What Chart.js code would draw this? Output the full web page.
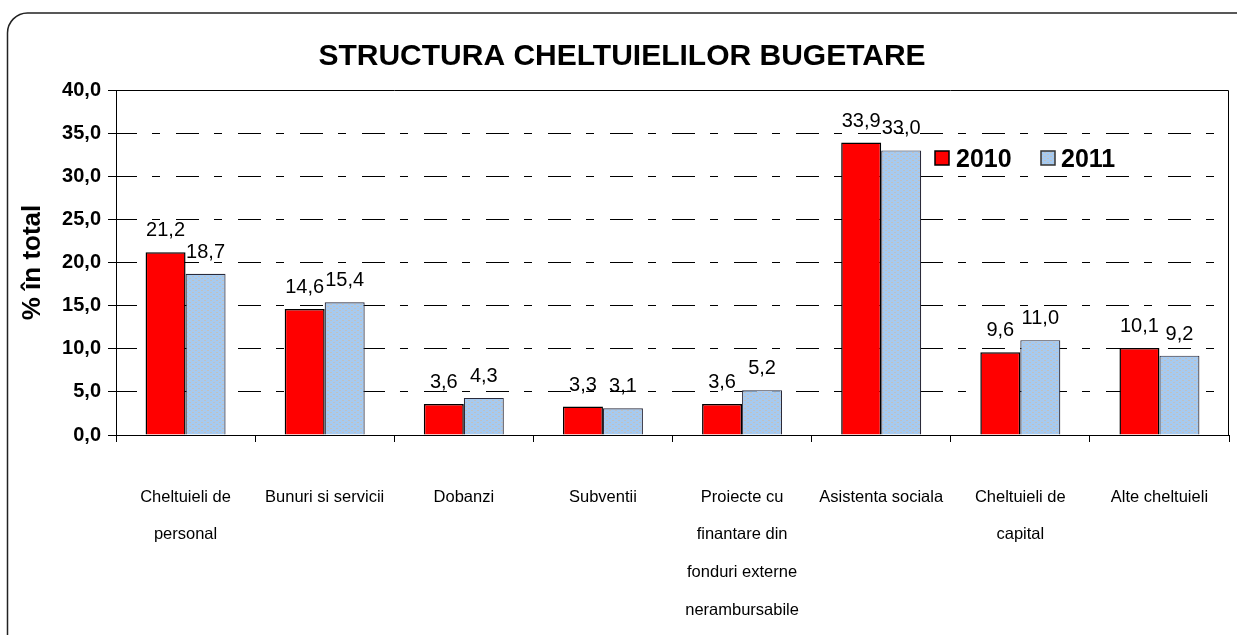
<!DOCTYPE html>
<html>
<head>
<meta charset="utf-8">
<script src="https://cdn.jsdelivr.net/npm/chart.js@4/dist/chart.umd.min.js"></script>
<style>
    html, body { margin: 0; padding: 0; background: #fff; }
    #wrap { width: 1237px; height: 635px; position: relative; }
</style>
</head>
<body>
<div id="wrap"><canvas id="bugetChart"></canvas></div>
<script>
// categorii de cheltuieli
const categories = [
    ["Cheltuieli de", "personal"],
    "Bunuri si servicii",
    "Dobanzi",
    "Subventii",
    ["Proiecte cu", "finantare din", "fonduri externe", "nerambursabile"],
    "Asistenta sociala",
    ["Cheltuieli de", "capital"],
    "Alte cheltuieli"
];
const seriesNames = ["2010", "2011"];
const values2010 = [21.2, 14.6, 3.6, 3.3, 3.6, 33.9, 9.6, 10.1];
const values2011 = [18.7, 15.4, 4.3, 3.1, 5.2, 33.0, 11.0, 9.2];
const yTicks = [0, 5, 10, 15, 20, 25, 30, 35, 40];

const fmt = (v) => v.toFixed(1).replace('.', ',');
const FONT = "Arial, 'Liberation Sans', sans-serif";

// hasura albastra cu puncte gri
const makePattern = () => {
    const c = document.createElement('canvas');
    c.width = 6;
    c.height = 4;
    const p = c.getContext('2d');
    p.fillStyle = '#a6caf0';
    p.fillRect(0, 0, 6, 4);
    p.fillStyle = '#c0c0c0';
    p.fillRect(0, 0, 2, 1);
    p.fillRect(3, 2, 2, 1);
    return p.createPattern(c, 'repeat');
};

const framePlugin = {
    id: 'frame',
    beforeDraw(chart) {
        const ctx = chart.ctx;
        ctx.save();
        ctx.fillStyle = '#fff';
        ctx.fillRect(0, 0, chart.width, chart.height);
        ctx.strokeStyle = '#222';
        ctx.lineWidth = 1.5;
        ctx.beginPath();
        ctx.roundRect(7.5, 13, 1250, 650, 20);
        ctx.stroke();
        ctx.restore();
    },
    afterDraw(chart) {
        const {ctx, chartArea: a} = chart;
        ctx.save();
        ctx.strokeStyle = '#000';
        ctx.lineWidth = 1;
        ctx.beginPath();
        ctx.moveTo(a.left + 0.5, a.bottom);
        ctx.lineTo(a.left + 0.5, a.top + 0.5);
        ctx.lineTo(a.right - 0.5, a.top + 0.5);
        ctx.lineTo(a.right - 0.5, a.bottom);
        ctx.moveTo(a.left, a.bottom + 0.5);
        ctx.lineTo(a.right, a.bottom + 0.5);
        ctx.stroke();

        // legenda
        ctx.fillStyle = '#fff';
        ctx.fillRect(923, 141, 205, 32);
        ctx.lineWidth = 1.5;
        ctx.fillStyle = '#ff0000';
        ctx.fillRect(935, 151, 14, 14);
        ctx.strokeStyle = '#000';
        ctx.strokeRect(935, 151, 14, 14);
        ctx.fillStyle = chart.data.datasets[1].backgroundColor;
        ctx.fillRect(1041, 151, 14, 14);
        ctx.strokeStyle = '#333';
        ctx.strokeRect(1041, 151, 14, 14);
        ctx.fillStyle = '#000';
        ctx.font = 'bold 25px ' + FONT;
        ctx.textBaseline = 'alphabetic';
        ctx.textAlign = 'left';
        ctx.fillText(seriesNames[0], 956, 167);
        ctx.fillText(seriesNames[1], 1061, 167);
        ctx.restore();
    }
};

const labelPlugin = {
    id: 'valueLabels',
    afterDatasetsDraw(chart) {
        const ctx = chart.ctx;
        ctx.save();
        ctx.font = '20px ' + FONT;
        ctx.fillStyle = '#000';
        ctx.textAlign = 'center';
        ctx.textBaseline = 'alphabetic';
        chart.data.datasets.forEach((ds, i) => {
            chart.getDatasetMeta(i).data.forEach((bar, j) => {
                ctx.fillText(fmt(ds.data[j]), bar.x, bar.y - 16);
            });
        });
        ctx.restore();
    }
};

const ctx = document.getElementById('bugetChart');
new Chart(ctx, {
    type: 'bar',
    data: {
        labels: categories,
        datasets: [{
            label: seriesNames[0],
            data: values2010,
            backgroundColor: '#ff0000',
            borderColor: '#000',
            borderWidth: 1.5
        }, {
            label: seriesNames[1],
            data: values2011,
            backgroundColor: makePattern(),
            borderColor: '#2a2a3a',
            borderWidth: 1.2
        }]
    },
    options: {
        responsive: true,
        maintainAspectRatio: false,
        animation: false,
        datasets: {
            bar: { categoryPercentage: 0.575, barPercentage: 1.0 }
        },
        layout: { padding: { left: 15, right: 8, top: 0, bottom: 0 } },
        plugins: {
            legend: { display: false },
            tooltip: { enabled: false },
            title: {
                display: true,
                text: 'STRUCTURA CHELTUIELILOR BUGETARE',
                color: '#000',
                font: { family: FONT, size: 30, weight: 'bold', lineHeight: 1.2 },
                padding: { top: 39, bottom: 15 }
            }
        },
        scales: {
            x: {
                afterFit: (scale) => {
                    scale.height = 200;
                    scale.paddingLeft = 0;
                    scale.paddingRight = 0;
                },
                grid: {
                    offset: true,
                    drawOnChartArea: false,
                    drawTicks: true,
                    tickLength: 7,
                    tickColor: '#000'
                },
                border: { display: false },
                ticks: {
                    color: '#000',
                    padding: 36,
                    maxRotation: 0,
                    autoSkip: false,
                    font: { family: FONT, size: 16.5, lineHeight: 2.3 }
                }
            },
            y: {
                min: 0,
                max: 40,
                afterFit: (scale) => { scale.width = 101; },
                afterBuildTicks: (scale) => {
                    scale.ticks = yTicks.map(v => ({ value: v }));
                },
                grid: {
                    color: '#000',
                    lineWidth: 1,
                    drawTicks: true,
                    tickLength: 8,
                    tickColor: '#000',
                    tickBorderDash: []
                },
                border: { display: false, dash: [23, 15, 8, 16], dashOffset: 2 },
                ticks: {
                    color: '#000',
                    padding: 7,
                    font: { family: FONT, size: 20, weight: 'bold' },
                    callback: (v) => fmt(v)
                },
                title: {
                    display: true,
                    text: '% în total',
                    color: '#000',
                    padding: { top: 2, bottom: 0 },
                    font: { family: FONT, size: 26, weight: 'bold', lineHeight: 1.2 }
                }
            }
        }
    },
    plugins: [framePlugin, labelPlugin]
});
</script>
</body>
</html>
